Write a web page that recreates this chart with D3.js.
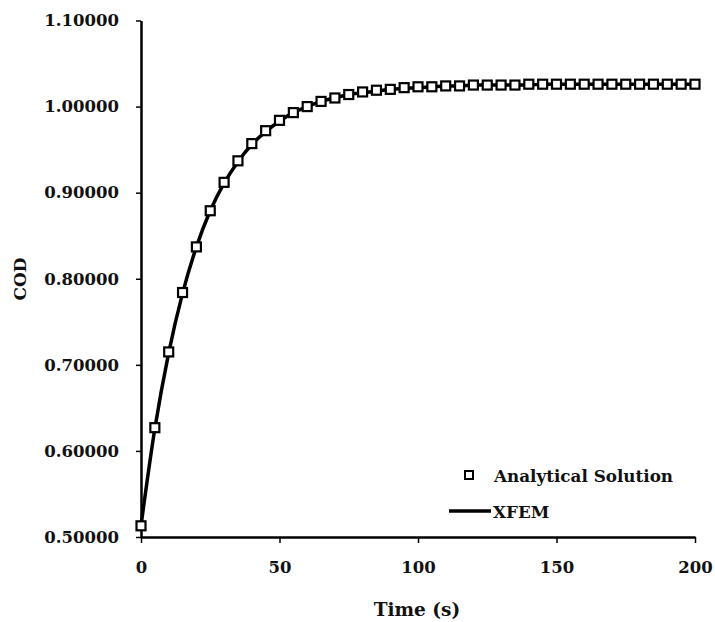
<!DOCTYPE html>
<html>
<head>
<meta charset="utf-8">
<script src="https://cdn.jsdelivr.net/npm/d3@7"></script>
<style>
  html, body { margin: 0; padding: 0; background: #fff; }
  text { font-family: "DejaVu Serif", serif; font-weight: bold; fill: #111; }
</style>
</head>
<body>
<svg id="chart" width="715" height="622"></svg>
<script>
// Time samples (s)
const time = [0, 5, 10, 15, 20, 25, 30, 35, 40, 45, 50, 55, 60, 65, 70, 75, 80, 85, 90, 95,
  100, 105, 110, 115, 120, 125, 130, 135, 140, 145, 150, 155, 160, 165, 170, 175, 180, 185, 190, 195, 200];

// Crack opening displacement, analytical solution
const analytical = [0.513, 0.627, 0.715, 0.784, 0.837, 0.879, 0.912, 0.937, 0.957, 0.972,
  0.984, 0.993, 1.000, 1.006, 1.010, 1.014, 1.017, 1.019, 1.020, 1.022,
  1.023, 1.023, 1.024, 1.024, 1.025, 1.025, 1.025, 1.025, 1.026, 1.026,
  1.026, 1.026, 1.026, 1.026, 1.026, 1.026, 1.026, 1.026, 1.026, 1.026, 1.026];

// Crack opening displacement, XFEM result
const xfem = [0.513, 0.626, 0.714, 0.783, 0.837, 0.879, 0.911, 0.936, 0.956, 0.971,
  0.983, 0.993, 1.000, 1.006, 1.010, 1.014, 1.016, 1.018, 1.020, 1.021,
  1.022, 1.023, 1.024, 1.024, 1.025, 1.025, 1.025, 1.025, 1.025, 1.026,
  1.026, 1.026, 1.026, 1.026, 1.026, 1.026, 1.026, 1.026, 1.026, 1.026, 1.026];

const xTicks = [0, 50, 100, 150, 200];
const yTicks = [0.5, 0.6, 0.7, 0.8, 0.9, 1.0, 1.1];
const seriesNames = ["Analytical Solution", "XFEM"];

const svg = d3.select("#chart");

const x = d3.scaleLinear().domain([0, 200]).range([141, 695]);
const y = d3.scaleLinear().domain([0.5, 1.1]).range([537, 20.5]);

// Axes
const xAxis = svg.append("g")
  .attr("transform", `translate(0,${y(0.5)})`)
  .call(d3.axisBottom(x).tickValues(xTicks).tickFormat(d3.format("d")).tickSize(6).tickSizeOuter(0).tickPadding(18));
const yAxis = svg.append("g")
  .attr("transform", `translate(${x(0)},0)`)
  .call(d3.axisLeft(y).tickValues(yTicks).tickFormat(d3.format(".5f")).tickSize(5).tickSizeOuter(0).tickPadding(17));

[xAxis, yAxis].forEach(g => {
  g.select(".domain").attr("stroke", "#000").attr("stroke-width", 2.5);
  g.selectAll(".tick line").attr("stroke", "#000").attr("stroke-width", 1.5);
  g.selectAll(".tick text").attr("font-family", "DejaVu Serif").attr("font-weight", "bold")
    .attr("font-size", 16.5).attr("fill", "#111");
});

// Axis titles
svg.append("text")
  .attr("x", 417).attr("y", 616)
  .attr("text-anchor", "middle").attr("font-size", 18.5)
  .text("Time (s)");
svg.append("text")
  .attr("transform", `translate(26,279) rotate(-90)`)
  .attr("text-anchor", "middle").attr("font-size", 17)
  .text("COD");

// XFEM curve
const line = d3.line()
  .x((d, i) => x(time[i]))
  .y(d => y(d))
  .curve(d3.curveMonotoneX);
svg.append("path")
  .datum(xfem)
  .attr("fill", "none").attr("stroke", "#000").attr("stroke-width", 3.5)
  .attr("d", line);

// Analytical markers
const ms = 9;
svg.append("g").selectAll("rect")
  .data(analytical)
  .join("rect")
  .attr("x", (d, i) => x(time[i]) - ms / 2)
  .attr("y", d => y(d) - ms / 2)
  .attr("width", ms).attr("height", ms)
  .attr("fill", "#fff").attr("stroke", "#000").attr("stroke-width", 2.2);

// Legend
const lg = svg.append("g");
lg.append("rect")
  .attr("x", 469 - 4).attr("y", 475 - 4).attr("width", 8).attr("height", 8)
  .attr("fill", "#fff").attr("stroke", "#000").attr("stroke-width", 2);
lg.append("text").attr("x", 494).attr("y", 482).attr("font-size", 16.8).text(seriesNames[0]);
lg.append("line")
  .attr("x1", 449).attr("x2", 491).attr("y1", 511).attr("y2", 511)
  .attr("stroke", "#000").attr("stroke-width", 3.5);
lg.append("text").attr("x", 493).attr("y", 518).attr("font-size", 16.8).text(seriesNames[1]);
</script>
</body>
</html>
